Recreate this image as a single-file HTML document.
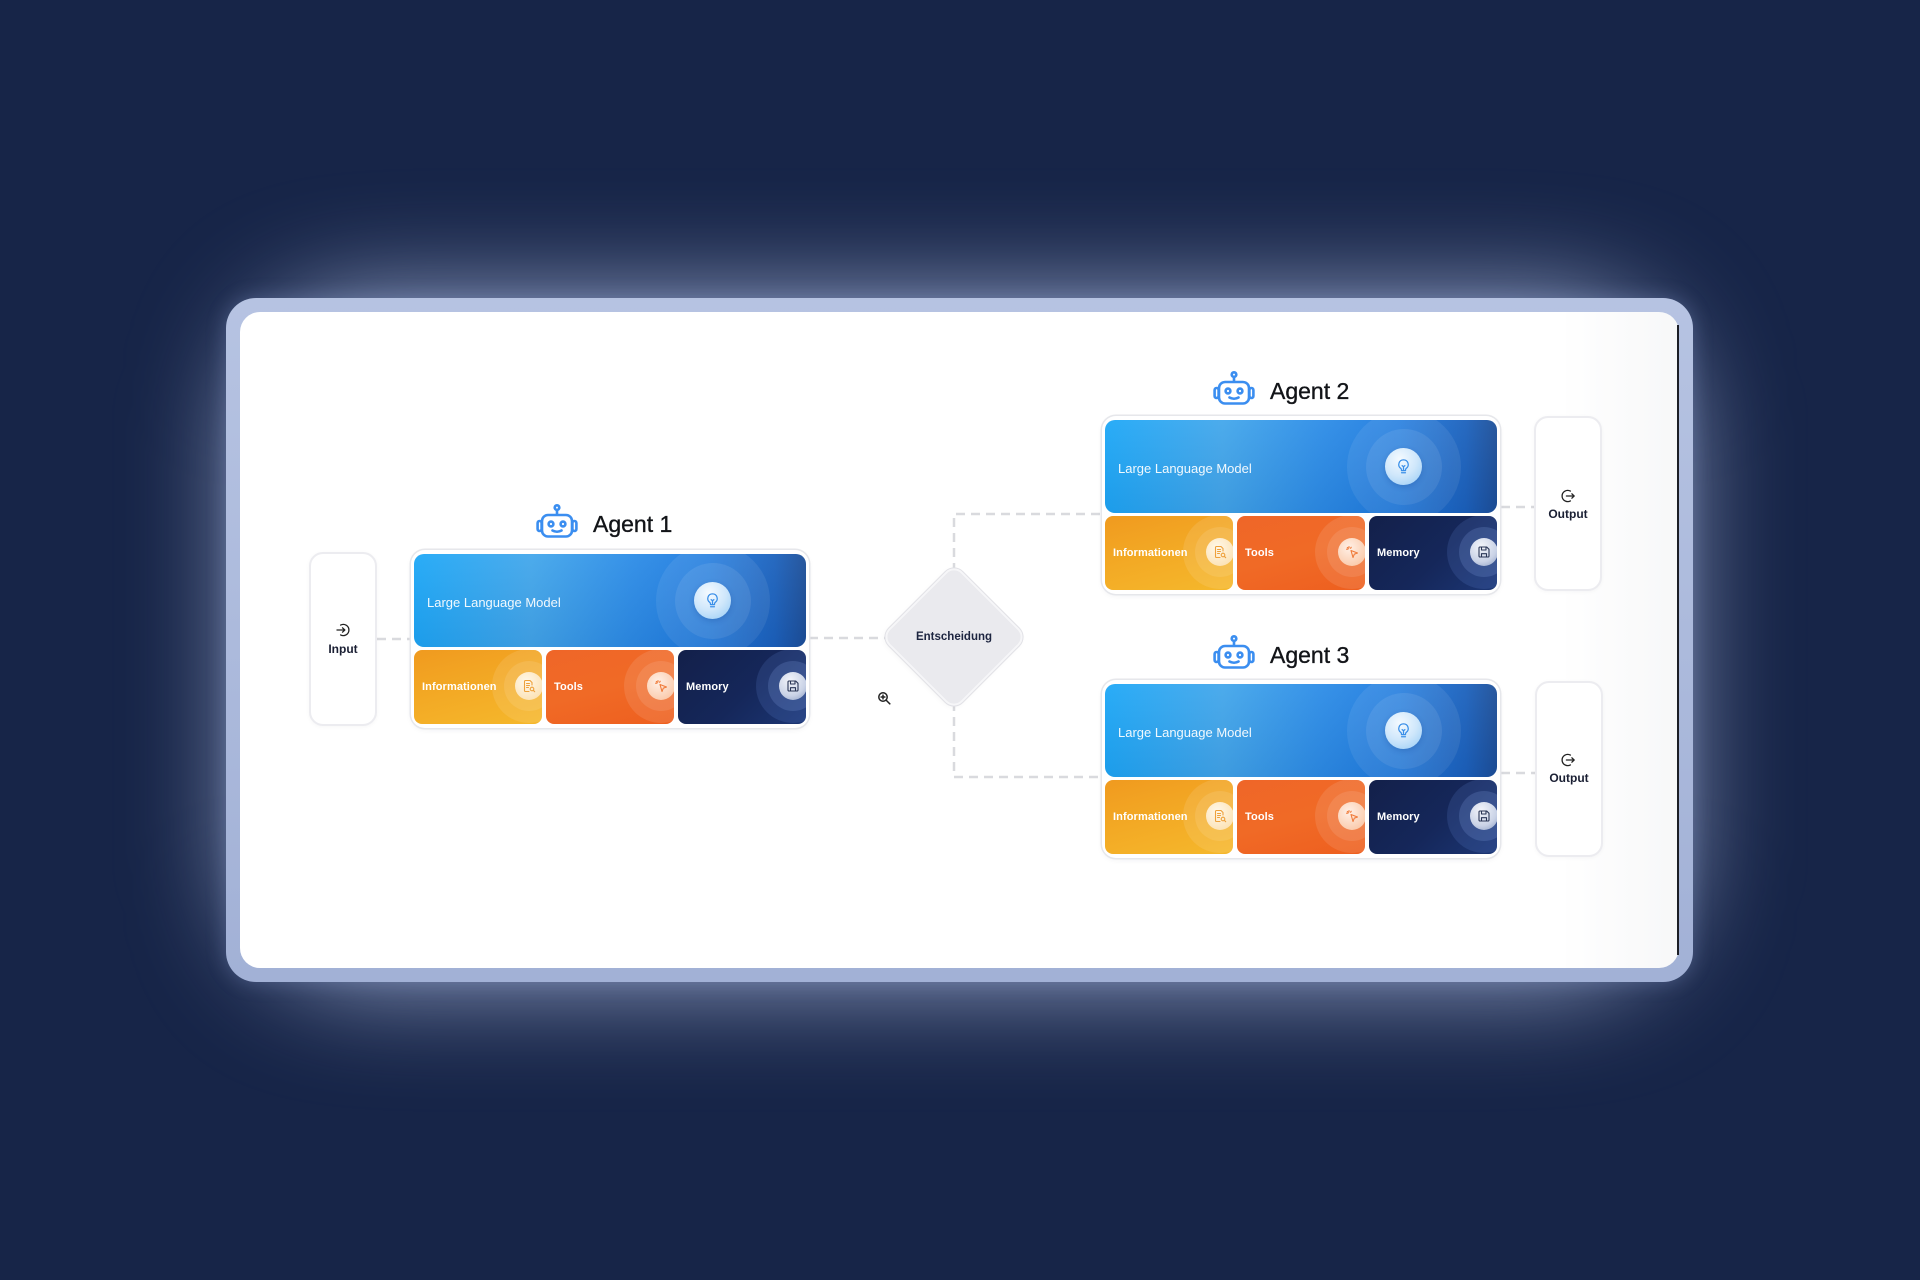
<!DOCTYPE html>
<html><head><meta charset="utf-8">
<style>
*{margin:0;padding:0;box-sizing:border-box}
html,body{width:1920px;height:1280px;overflow:hidden}
body{background:#172548;font-family:"Liberation Sans",sans-serif;position:relative}
.a{position:absolute}
.glow{left:250px;top:306px;width:1420px;height:668px;border-radius:110px;background:rgba(195,208,242,.88);filter:blur(58px)}
.frame{left:226px;top:298px;width:1467px;height:684px;border-radius:30px;background:linear-gradient(180deg,#b6c3e2,#a2b1d6);box-shadow:0 0 18px 2px rgba(140,160,215,.25)}
.inner{left:240px;top:312px;width:1439px;height:656px;border-radius:20px;background:#fff;overflow:hidden}
.shade{right:0;top:0;width:120px;height:100%;background:linear-gradient(90deg,rgba(0,0,0,0),rgba(30,40,70,.035))}
.rline{left:1677px;top:325px;width:2px;height:630px;background:#1c1e26}
.agent{position:absolute;width:398px;height:178px;border-radius:14px;background:#fff;box-shadow:0 0 0 1.5px #e6e7eb,0 2px 6px rgba(20,30,60,.06)}
.llm{position:absolute;left:3px;top:4px;width:392px;height:93px;border-radius:10px;overflow:hidden;background:linear-gradient(90deg,#1ea8f7 0%,#43a7eb 30%,#2d8de7 55%,#1f7bdf 75%,#1c62bd 92%,#1d4f98 100%)}
.llm:after{content:"";position:absolute;inset:0;background:linear-gradient(180deg,rgba(255,255,255,.05),rgba(0,20,80,.08))}
.llm .t{position:absolute;left:13px;top:41px;line-height:16px;font-size:13px;color:rgba(255,255,255,.93);white-space:nowrap;z-index:2}
.h1{position:absolute;left:242px;top:-10px;width:114px;height:114px;border-radius:50%;background:rgba(255,255,255,.08)}
.h2{position:absolute;left:261px;top:9px;width:76px;height:76px;border-radius:50%;background:rgba(255,255,255,.09)}
.bulb{position:absolute;left:280px;top:28px;width:37px;height:37px;border-radius:50%;background:radial-gradient(circle at 40% 30%,#f4faff 0%,#cfe7fb 50%,#94caf5 100%);z-index:2;box-shadow:0 2px 6px rgba(0,40,120,.2)}
.bulb svg{position:absolute;left:10px;top:10px}
.b{position:absolute;top:100px;height:74px;width:128px;border-radius:8px;overflow:hidden}
.info{left:3px;background:linear-gradient(165deg,#f09a1f 0%,#f3aa25 50%,#f5b82c 100%)}
.tools{left:135px;background:linear-gradient(165deg,#ef6628 0%,#f06a26 50%,#ee5f1f 100%)}
.mem{left:267px;width:128px;background:linear-gradient(135deg,#13204a 0%,#15275a 55%,#1c3674 100%)}
.b .t{position:absolute;left:8px;top:30px;line-height:15px;font-size:11px;font-weight:bold;color:#fff;white-space:nowrap;z-index:2;letter-spacing:.1px}
.g1{position:absolute;left:78px;top:-1px;width:74px;height:74px;border-radius:50%;background:rgba(255,255,255,.1)}
.g2{position:absolute;left:90px;top:11px;width:50px;height:50px;border-radius:50%;background:rgba(255,255,255,.1)}
.mem .g1{background:rgba(110,150,230,.16)}
.mem .g2{background:rgba(140,170,235,.2)}
.ic{position:absolute;left:101px;top:22px;width:28px;height:28px;border-radius:50%;z-index:2}
.ic svg{position:absolute;left:7px;top:7px}
.info .ic{background:radial-gradient(circle at 40% 35%,#fff8ea,#fbdca6)}
.tools .ic{background:radial-gradient(circle at 40% 35%,#fff0e6,#f9bf9a)}
.mem .ic{background:radial-gradient(circle at 40% 30%,#f3f5fa,#c9d2e6 60%,#8799c0)}
.title{position:absolute;font-size:23px;line-height:30px;color:#121418;white-space:nowrap;-webkit-text-stroke:0.35px #121418}
.io{position:absolute;width:68px;border-radius:14px;background:#fff;border:2px solid #ececf0;box-shadow:0 1px 4px rgba(20,30,60,.04)}
.iot{position:absolute;width:68px;text-align:center;font-size:12px;font-weight:bold;line-height:16px;color:#1a1f33}
.dia{left:902px;top:585px;width:104px;height:104px;border-radius:12px;transform:rotate(45deg);background:#eaeaee;border:2px solid #f6f6f8;box-shadow:0 0 0 1px #e1e1e6,0 2px 6px rgba(0,0,0,.04)}
</style></head><body>
<div class="a glow"></div>
<div class="a frame"></div>
<div class="a inner"><div class="a shade"></div></div>
<div class="a rline"></div>

<svg class="a" style="left:0;top:0" width="1920" height="1280">
<g stroke="#d9dade" stroke-width="2.5" fill="none" stroke-dasharray="9 6">
<path d="M377 639H411"/>
<path d="M809 638H890"/>
<path d="M954 572V514H1102"/>
<path d="M954 702V777H1102"/>
<path d="M1501 507H1534"/>
<path d="M1501 773H1535"/>
</g>
</svg>

<!-- Input -->
<div class="io" style="left:309px;top:552px;height:174px"></div>
<svg class="a" style="left:336px;top:623px" width="14" height="14" viewBox="0 0 14 14"><g fill="none" stroke="#222" stroke-width="1.3" stroke-linecap="round" stroke-linejoin="round"><path d="M4.6 2.1A5.6 5.6 0 1 1 4.6 11.9"/><path d="M1 7H8.6"/><path d="M6.5 4.8L8.8 7L6.5 9.2"/></g></svg>
<div class="iot" style="left:309px;top:641px">Input</div>

<!-- Outputs -->
<div class="io" style="left:1534px;top:416px;height:175px"></div>
<svg class="a" style="left:1561px;top:489px" width="14" height="14" viewBox="0 0 14 14"><g fill="none" stroke="#222" stroke-width="1.3" stroke-linecap="round" stroke-linejoin="round"><path d="M9.4 2.1A5.6 5.6 0 1 0 9.4 11.9"/><path d="M5.4 7H13"/><path d="M10.9 4.8L13.1 7L10.9 9.2"/></g></svg>
<div class="iot" style="left:1534px;top:506px">Output</div>

<div class="io" style="left:1535px;top:681px;height:176px"></div>
<svg class="a" style="left:1561px;top:753px" width="14" height="14" viewBox="0 0 14 14"><g fill="none" stroke="#222" stroke-width="1.3" stroke-linecap="round" stroke-linejoin="round"><path d="M9.4 2.1A5.6 5.6 0 1 0 9.4 11.9"/><path d="M5.4 7H13"/><path d="M10.9 4.8L13.1 7L10.9 9.2"/></g></svg>
<div class="iot" style="left:1535px;top:770px">Output</div>

<!-- Diamond -->
<div class="a dia"></div>
<div class="a" style="left:894px;top:629px;width:120px;text-align:center;font-size:11.5px;font-weight:bold;line-height:16px;color:#1d2540">Entscheidung</div>
<svg class="a" style="left:877px;top:691px" width="15" height="15" viewBox="0 0 15 15"><g fill="none" stroke="#222" stroke-width="1.5" stroke-linecap="round"><circle cx="6" cy="6" r="4.2"/><path d="M9.1 9.1L12.8 12.8"/><path d="M4.1 6H7.9M6 4.1V7.9"/></g></svg>

<!-- Robot icons -->
<svg class="a" style="left:536px;top:504px" width="42" height="34" viewBox="0 0 42 34"><g fill="none" stroke="#3b8ef0" stroke-width="2.6" stroke-linecap="round" stroke-linejoin="round"><circle cx="21" cy="3.6" r="2.3"/><path d="M21 6V11"/><rect x="6" y="11" width="30" height="21.5" rx="6" fill="#fff"/><rect x="1.6" y="17" width="4" height="10" rx="2"/><rect x="36.4" y="17" width="4" height="10" rx="2"/><circle cx="15" cy="20" r="2.4"/><circle cx="27" cy="20" r="2.4"/><path d="M16.5 26.5Q21 29 25.5 26.5"/></g></svg>
<div class="title" style="left:593px;top:509px">Agent 1</div>

<svg class="a" style="left:1213px;top:371px" width="42" height="34" viewBox="0 0 42 34"><g fill="none" stroke="#3b8ef0" stroke-width="2.6" stroke-linecap="round" stroke-linejoin="round"><circle cx="21" cy="3.6" r="2.3"/><path d="M21 6V11"/><rect x="6" y="11" width="30" height="21.5" rx="6" fill="#fff"/><rect x="1.6" y="17" width="4" height="10" rx="2"/><rect x="36.4" y="17" width="4" height="10" rx="2"/><circle cx="15" cy="20" r="2.4"/><circle cx="27" cy="20" r="2.4"/><path d="M16.5 26.5Q21 29 25.5 26.5"/></g></svg>
<div class="title" style="left:1270px;top:376px">Agent 2</div>

<svg class="a" style="left:1213px;top:635px" width="42" height="34" viewBox="0 0 42 34"><g fill="none" stroke="#3b8ef0" stroke-width="2.6" stroke-linecap="round" stroke-linejoin="round"><circle cx="21" cy="3.6" r="2.3"/><path d="M21 6V11"/><rect x="6" y="11" width="30" height="21.5" rx="6" fill="#fff"/><rect x="1.6" y="17" width="4" height="10" rx="2"/><rect x="36.4" y="17" width="4" height="10" rx="2"/><circle cx="15" cy="20" r="2.4"/><circle cx="27" cy="20" r="2.4"/><path d="M16.5 26.5Q21 29 25.5 26.5"/></g></svg>
<div class="title" style="left:1270px;top:640px">Agent 3</div>

<!-- Agent 1 -->
<div class="agent" style="left:411px;top:550px">
 <div class="llm"><div class="h1"></div><div class="h2"></div><div class="t">Large Language Model</div>
  <div class="bulb"><svg width="17" height="17" viewBox="0 0 16 16"><g fill="none" stroke="#3a8fe8" stroke-width="1.2" stroke-linecap="round" stroke-linejoin="round"><path d="M8 1.8a4.4 4.4 0 0 0-2.7 7.9c.5.4.8 1 .8 1.6v.6h3.8v-.6c0-.6.3-1.2.8-1.6A4.4 4.4 0 0 0 8 1.8z"/><path d="M6.2 13.9h3.6"/><path d="M8 11.5V8.2M6.7 7.2L8 8.2l1.3-1"/></g></svg></div></div>
 <div class="b info"><div class="g1"></div><div class="g2"></div><div class="t">Informationen</div><div class="ic"><svg width="14" height="14" viewBox="0 0 14 14"><g fill="none" stroke="#eea13c" stroke-width="1.1" stroke-linecap="round" stroke-linejoin="round"><path d="M10 6V3.5L8 1.5H3.5a1 1 0 0 0-1 1v9a1 1 0 0 0 1 1H7"/><path d="M4.5 4.5h3M4.5 6.5h3M4.5 8.5h2"/><circle cx="10" cy="10" r="1.8"/><path d="M11.3 11.3l1.4 1.4"/></g></svg></div></div>
 <div class="b tools"><div class="g1"></div><div class="g2"></div><div class="t">Tools</div><div class="ic"><svg width="14" height="14" viewBox="0 0 14 14"><g fill="none" stroke="#f07b3a" stroke-width="1.1" stroke-linecap="round" stroke-linejoin="round"><path d="M6 5.5L12.5 8L9.3 9.2L8 12.5Z"/><path d="M4 1.5v1.5M1.5 4.2h1.5M2.3 2.4l1 1M6.2 2.2l-.6 1.1"/></g></svg></div></div>
 <div class="b mem"><div class="g1"></div><div class="g2"></div><div class="t">Memory</div><div class="ic"><svg width="14" height="14" viewBox="0 0 14 14"><g fill="none" stroke="#2a3656" stroke-width="1.1" stroke-linecap="round" stroke-linejoin="round"><path d="M3 2h6.7L12 4.3V11a1 1 0 0 1-1 1H3a1 1 0 0 1-1-1V3a1 1 0 0 1 1-1z"/><path d="M4.5 2v3h4.5V2"/><path d="M4.5 12V8.7h5V12"/></g></svg></div></div>
</div>

<!-- Agent 2 -->
<div class="agent" style="left:1102px;top:416px">
 <div class="llm"><div class="h1"></div><div class="h2"></div><div class="t">Large Language Model</div>
  <div class="bulb"><svg width="17" height="17" viewBox="0 0 16 16"><g fill="none" stroke="#3a8fe8" stroke-width="1.2" stroke-linecap="round" stroke-linejoin="round"><path d="M8 1.8a4.4 4.4 0 0 0-2.7 7.9c.5.4.8 1 .8 1.6v.6h3.8v-.6c0-.6.3-1.2.8-1.6A4.4 4.4 0 0 0 8 1.8z"/><path d="M6.2 13.9h3.6"/><path d="M8 11.5V8.2M6.7 7.2L8 8.2l1.3-1"/></g></svg></div></div>
 <div class="b info"><div class="g1"></div><div class="g2"></div><div class="t">Informationen</div><div class="ic"><svg width="14" height="14" viewBox="0 0 14 14"><g fill="none" stroke="#eea13c" stroke-width="1.1" stroke-linecap="round" stroke-linejoin="round"><path d="M10 6V3.5L8 1.5H3.5a1 1 0 0 0-1 1v9a1 1 0 0 0 1 1H7"/><path d="M4.5 4.5h3M4.5 6.5h3M4.5 8.5h2"/><circle cx="10" cy="10" r="1.8"/><path d="M11.3 11.3l1.4 1.4"/></g></svg></div></div>
 <div class="b tools"><div class="g1"></div><div class="g2"></div><div class="t">Tools</div><div class="ic"><svg width="14" height="14" viewBox="0 0 14 14"><g fill="none" stroke="#f07b3a" stroke-width="1.1" stroke-linecap="round" stroke-linejoin="round"><path d="M6 5.5L12.5 8L9.3 9.2L8 12.5Z"/><path d="M4 1.5v1.5M1.5 4.2h1.5M2.3 2.4l1 1M6.2 2.2l-.6 1.1"/></g></svg></div></div>
 <div class="b mem"><div class="g1"></div><div class="g2"></div><div class="t">Memory</div><div class="ic"><svg width="14" height="14" viewBox="0 0 14 14"><g fill="none" stroke="#2a3656" stroke-width="1.1" stroke-linecap="round" stroke-linejoin="round"><path d="M3 2h6.7L12 4.3V11a1 1 0 0 1-1 1H3a1 1 0 0 1-1-1V3a1 1 0 0 1 1-1z"/><path d="M4.5 2v3h4.5V2"/><path d="M4.5 12V8.7h5V12"/></g></svg></div></div>
</div>

<!-- Agent 3 -->
<div class="agent" style="left:1102px;top:680px">
 <div class="llm"><div class="h1"></div><div class="h2"></div><div class="t">Large Language Model</div>
  <div class="bulb"><svg width="17" height="17" viewBox="0 0 16 16"><g fill="none" stroke="#3a8fe8" stroke-width="1.2" stroke-linecap="round" stroke-linejoin="round"><path d="M8 1.8a4.4 4.4 0 0 0-2.7 7.9c.5.4.8 1 .8 1.6v.6h3.8v-.6c0-.6.3-1.2.8-1.6A4.4 4.4 0 0 0 8 1.8z"/><path d="M6.2 13.9h3.6"/><path d="M8 11.5V8.2M6.7 7.2L8 8.2l1.3-1"/></g></svg></div></div>
 <div class="b info"><div class="g1"></div><div class="g2"></div><div class="t">Informationen</div><div class="ic"><svg width="14" height="14" viewBox="0 0 14 14"><g fill="none" stroke="#eea13c" stroke-width="1.1" stroke-linecap="round" stroke-linejoin="round"><path d="M10 6V3.5L8 1.5H3.5a1 1 0 0 0-1 1v9a1 1 0 0 0 1 1H7"/><path d="M4.5 4.5h3M4.5 6.5h3M4.5 8.5h2"/><circle cx="10" cy="10" r="1.8"/><path d="M11.3 11.3l1.4 1.4"/></g></svg></div></div>
 <div class="b tools"><div class="g1"></div><div class="g2"></div><div class="t">Tools</div><div class="ic"><svg width="14" height="14" viewBox="0 0 14 14"><g fill="none" stroke="#f07b3a" stroke-width="1.1" stroke-linecap="round" stroke-linejoin="round"><path d="M6 5.5L12.5 8L9.3 9.2L8 12.5Z"/><path d="M4 1.5v1.5M1.5 4.2h1.5M2.3 2.4l1 1M6.2 2.2l-.6 1.1"/></g></svg></div></div>
 <div class="b mem"><div class="g1"></div><div class="g2"></div><div class="t">Memory</div><div class="ic"><svg width="14" height="14" viewBox="0 0 14 14"><g fill="none" stroke="#2a3656" stroke-width="1.1" stroke-linecap="round" stroke-linejoin="round"><path d="M3 2h6.7L12 4.3V11a1 1 0 0 1-1 1H3a1 1 0 0 1-1-1V3a1 1 0 0 1 1-1z"/><path d="M4.5 2v3h4.5V2"/><path d="M4.5 12V8.7h5V12"/></g></svg></div></div>
</div>

</body></html>
